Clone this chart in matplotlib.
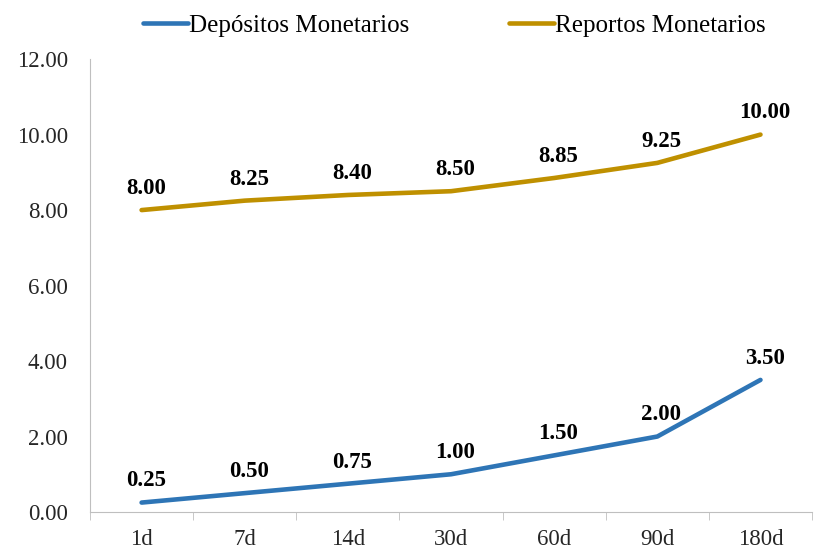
import matplotlib.pyplot as plt

plazos = ['1d', '7d', '14d', '30d', '60d', '90d', '180d']
depositos = [0.25, 0.50, 0.75, 1.00, 1.50, 2.00, 3.50]
reportos = [8.00, 8.25, 8.40, 8.50, 8.85, 9.25, 10.00]

plt.rcParams['font.family'] = ['Liberation Serif', 'DejaVu Serif']

fig = plt.figure(figsize=(8.14, 5.54), dpi=100)
ax = fig.add_axes([0.1106, 0.0758, 0.887, 0.8175])

x = range(len(plazos))
ax.plot(x, depositos, color='#2E75B6', lw=3.3, solid_capstyle='round', label='Depósitos Monetarios')
ax.plot(x, reportos, color='#BF9000', lw=3.3, solid_capstyle='round', label='Reportos Monetarios')

for serie in (depositos, reportos):
    for i, v in enumerate(serie):
        ax.annotate(f'{v:.2f}', (i, v), xytext=(3, 8), textcoords='offset points',
                    ha='center', va='bottom', fontsize=16.5, fontweight='bold')

ax.set_xlim(-0.5, len(plazos) - 0.5)
ax.set_ylim(0, 12)
ax.set_yticks([0, 2, 4, 6, 8, 10, 12])
ax.set_yticklabels([f'{v:.2f}' for v in [0, 2, 4, 6, 8, 10, 12]], fontsize=16.5, color='#262626')
ax.set_xticks(list(x))
ax.set_xticklabels(plazos, fontsize=16.5, color='#262626')
ax.tick_params(axis='x', length=0, pad=12)
ax.set_xticks([i - 0.5 for i in range(len(plazos) + 1)], minor=True)
ax.tick_params(axis='x', which='minor', length=6, color='#BFBFBF')
ax.tick_params(axis='y', length=0, pad=16)

for s in ['top', 'right']:
    ax.spines[s].set_visible(False)
ax.spines['left'].set_color('#BFBFBF')
ax.spines['bottom'].set_color('#BFBFBF')

fig.legend(loc='upper center', bbox_to_anchor=(0.558, 1.015), ncol=2, frameon=False,
           fontsize=18, handlelength=1.8, handletextpad=0.05, columnspacing=4.0)

fig.savefig('out.png', dpi=100)
